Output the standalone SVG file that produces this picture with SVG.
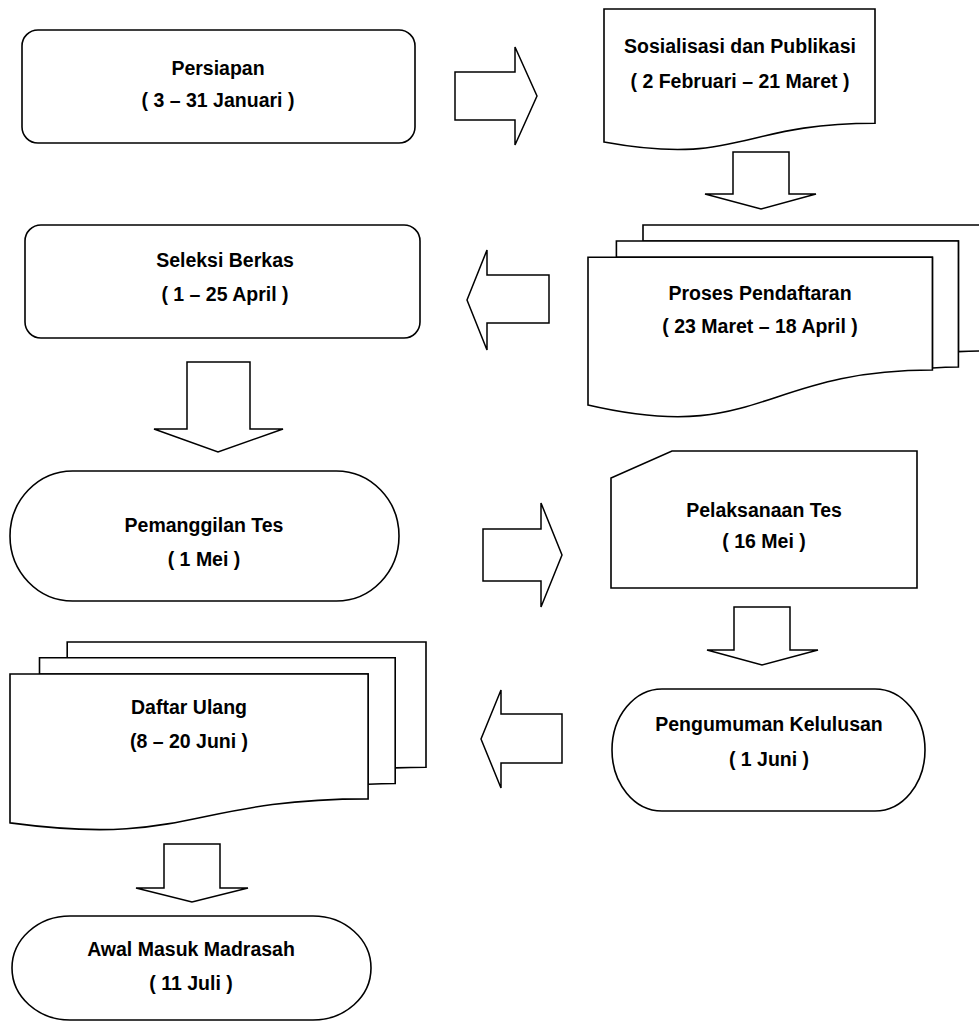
<svg xmlns="http://www.w3.org/2000/svg" width="979" height="1027" viewBox="0 0 979 1027">
<style>
.s{fill:#fff;stroke:#000;stroke-width:1.6;stroke-linejoin:miter}
.a{fill:#fff;stroke:#000;stroke-width:1.5;stroke-linejoin:miter}
.t{font-family:"Liberation Sans",Arial,sans-serif;font-weight:bold;font-size:19.5px;text-anchor:middle;fill:#000}
</style>
<rect width="979" height="1027" fill="#fff"/>
<g id="connectors">
<polygon class="a" points="455,72 515,72 515,47 537,96 515,145 515,120 455,120"/>
<polygon class="a" points="733,152 789,152 789,194 816,194 761,209 705,194 733,194"/>
<polygon class="a" points="549,275 487,275 487,250 467,300 487,350 487,323 549,323"/>
<polygon class="a" points="187,362 250,362 250,429 283,429 218,452 154,429 187,429"/>
<polygon class="a" points="483,529 541,529 541,503 562,555 541,607 541,581 483,581"/>
<polygon class="a" points="734,607 790,607 790,650 818,650 762,665 707,650 734,650"/>
<polygon class="a" points="562,714 501,714 501,690 481,739 501,788 501,763 562,763"/>
<polygon class="a" points="164,844 220,844 220,888 248,888 192,902 136,888 164,888"/>
</g>
<g id="persiapan">
<rect class="s" x="22" y="30" width="393" height="113" rx="16" ry="16"/>
<text class="t" x="218" y="75">Persiapan</text>
<text class="t" x="218" y="107">( 3 – 31 Januari )</text>
</g>
<g id="sosialisasi">
<path class="s" d="M604,9 L875,9 L875,123.2 C739.5,123.2 739.5,166.7 604,142 Z"/>
<text class="t" x="740" y="53">Sosialisasi dan Publikasi</text>
<text class="t" x="740" y="88">( 2 Februari – 21 Maret )</text>
</g>
<g id="proses">
<path class="s" d="M643,241 L643,225 L988,225 L988,351 C973.2,351 958.4,351.6 958.4,351.6 L958.4,241 Z"/>
<path class="s" d="M616.4,257.3 L616.4,241 L958.4,241 L958.4,367 C945.4,367 932.4,368 932.4,368 L932.4,257.3 Z"/>
<path class="s" d="M588,405 C760.2,445 760.2,370 932.4,370 L932.4,257.3 L588,257.3 Z"/>
<text class="t" x="760" y="300">Proses Pendaftaran</text>
<text class="t" x="760" y="333">( 23 Maret – 18 April )</text>
</g>
<g id="seleksi">
<rect class="s" x="25" y="225" width="395" height="113" rx="16" ry="16"/>
<text class="t" x="225" y="267">Seleksi Berkas</text>
<text class="t" x="225" y="301">( 1 – 25 April )</text>
</g>
<g id="pemanggilan">
<rect class="s" x="10" y="471" width="389" height="130" rx="62.6" ry="65"/>
<text class="t" x="204" y="532">Pemanggilan Tes</text>
<text class="t" x="204" y="566">( 1 Mei )</text>
</g>
<g id="pelaksanaan">
<path class="s" d="M672,451 L917,451 L917,588 L611,588 L611,478 Z"/>
<text class="t" x="764" y="517">Pelaksanaan Tes</text>
<text class="t" x="764" y="548">( 16 Mei )</text>
</g>
<g id="pengumuman">
<rect class="s" x="612" y="689" width="313" height="122" rx="50" ry="61"/>
<text class="t" x="769" y="731">Pengumuman Kelulusan</text>
<text class="t" x="769" y="766">( 1 Juni )</text>
</g>
<g id="daftar">
<path class="s" d="M67.2,657.8 L67.2,642 L426,642 L426,767.3 C410.6,767.3 395.2,767.9 395.2,767.9 L395.2,657.8 Z"/>
<path class="s" d="M39.5,674 L39.5,657.8 L395.2,657.8 L395.2,783.5 C381.7,783.5 368.1,784.3 368.1,784.3 L368.1,674 Z"/>
<path class="s" d="M10,822.9 C189.1,846.9 189.1,798.9 368.1,798.9 L368.1,674 L10,674 Z"/>
<text class="t" x="189" y="714">Daftar Ulang</text>
<text class="t" x="189" y="748">(8 – 20 Juni )</text>
</g>
<g id="awal">
<rect class="s" x="12" y="916" width="359" height="104" rx="58" ry="52"/>
<text class="t" x="191" y="956">Awal Masuk Madrasah</text>
<text class="t" x="191" y="990">( 11 Juli )</text>
</g>
</svg>
